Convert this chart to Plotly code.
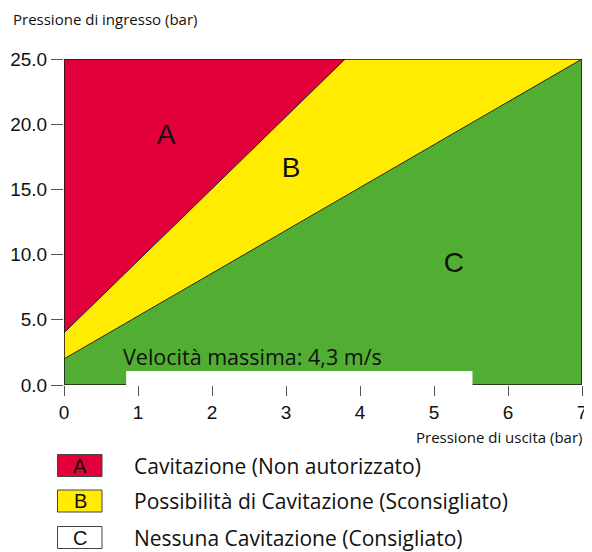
import plotly.graph_objects as go

# Data
x_range = [0, 7]
y_range = [0, 25]
boundary_A_x = [0, 3.8]   # limit between A and B
boundary_A_y = [4, 25]
boundary_C_x = [0, 7]     # limit between B and C
boundary_C_y = [2, 25]
region_labels = ["A", "B", "C"]
region_label_x = [1.38, 3.07, 5.27]
region_label_y = [19.0, 16.5, 9.2]
region_colors = ["#E2003A", "#FFEC00", "#52AE32"]
legend_labels = ["Cavitazione (Non autorizzato)",
                 "Possibilità di Cavitazione (Sconsigliato)",
                 "Nessuna Cavitazione (Consigliato)"]
legend_box_colors = ["#E2003A", "#FFEC00", "#FFFFFF"]
x_ticks = [0, 1, 2, 3, 4, 5, 6, 7]
y_ticks = [0, 5, 10, 15, 20, 25]
note_text = "Velocità massima: 4,3 m/s"

OFF = 8  # page body margin
W, H = 592 - OFF, 552 - OFF
ml, mt, mb = 64 - OFF, 59 - OFF, 167
mr = 584 - 582 + OFF  # right edge of plot at x=582 in the window
pw, ph = W - ml - mr, H - mt - mb

fig = go.Figure()

# Region C (green)
fig.add_trace(go.Scatter(
    x=[x_range[0], x_range[1], boundary_C_x[1], boundary_C_x[0], x_range[0]],
    y=[y_range[0], y_range[0], boundary_C_y[1], boundary_C_y[0], y_range[0]],
    fill="toself", fillcolor=region_colors[2], mode="lines",
    line=dict(width=0), hoverinfo="skip", showlegend=False))
# Region B (yellow)
fig.add_trace(go.Scatter(
    x=[boundary_C_x[0], boundary_C_x[1], boundary_A_x[1], boundary_A_x[0], boundary_C_x[0]],
    y=[boundary_C_y[0], boundary_C_y[1], boundary_A_y[1], boundary_A_y[0], boundary_C_y[0]],
    fill="toself", fillcolor=region_colors[1], mode="lines",
    line=dict(width=0), hoverinfo="skip", showlegend=False))
# Region A (red)
fig.add_trace(go.Scatter(
    x=[boundary_A_x[0], boundary_A_x[1], x_range[0], boundary_A_x[0]],
    y=[boundary_A_y[0], boundary_A_y[1], y_range[1], boundary_A_y[0]],
    fill="toself", fillcolor=region_colors[0], mode="lines",
    line=dict(width=0), hoverinfo="skip", showlegend=False))
# Boundary lines
for bx, by in [(boundary_A_x, boundary_A_y), (boundary_C_x, boundary_C_y)]:
    fig.add_trace(go.Scatter(x=bx, y=by, mode="lines",
                             line=dict(color="#222222", width=1),
                             hoverinfo="skip", showlegend=False))
# Region letters
fig.add_trace(go.Scatter(
    x=region_label_x, y=region_label_y, mode="text", text=region_labels,
    textfont=dict(family="Liberation Sans", size=28, color="#111111"),
    hoverinfo="skip", showlegend=False))

# Frame, then white box covering bottom part of it
fig.add_shape(type="rect", xref="x", yref="y", x0=x_range[0], x1=x_range[1],
              y0=y_range[0], y1=y_range[1], line=dict(color="#1a1a1a", width=1.6),
              fillcolor="rgba(0,0,0,0)", layer="above")
fig.add_shape(type="rect", xref="x", yref="y", x0=0.84, x1=5.52, y0=-0.2, y1=1.08,
              fillcolor="white", line=dict(width=0), layer="above")
fig.add_annotation(xref="x", yref="y", x=0.77, y=0.92, text=note_text, showarrow=False,
                   xanchor="left", yanchor="bottom",
                   font=dict(family="Open Sans", size=21.5, color="#111111"))

# Axis titles
fig.add_annotation(xref="paper", yref="paper", x=-(ml - (11 - OFF)) / pw,
                   y=1 + (mt - (7 - OFF)) / ph,
                   text="Pressione di ingresso (bar)", showarrow=False,
                   xanchor="left", yanchor="top",
                   font=dict(family="Open Sans", size=15, color="#111111"))
fig.add_annotation(xref="paper", yref="paper", x=1.0 + 2 / pw,
                   y=-(437 - OFF - mt - ph) / ph,
                   text="Pressione di uscita (bar)", showarrow=False,
                   xanchor="right", yanchor="middle",
                   font=dict(family="Open Sans", size=15, color="#111111"))

# Legend (manual)
row_py = [465.5, 501, 537.5]
for lab, txt, col, py in zip(region_labels, legend_labels, legend_box_colors, row_py):
    yc = (H - mb - (py - OFF)) / ph
    fig.add_shape(type="rect", xref="paper", yref="paper",
                  x0=(57.5 - 64) / pw, x1=(102 - 64) / pw,
                  y0=yc - 11 / ph, y1=yc + 11 / ph,
                  fillcolor=col, line=dict(color="#444444", width=1))
    fig.add_annotation(xref="paper", yref="paper", x=(80 - 64) / pw, y=yc,
                       text=lab, showarrow=False, xanchor="center", yanchor="middle",
                       font=dict(family="Liberation Sans", size=20, color="#111111"))
    fig.add_annotation(xref="paper", yref="paper", x=(132 - 64) / pw, y=yc,
                       text=txt, showarrow=False, xanchor="left", yanchor="middle",
                       font=dict(family="Open Sans", size=21, color="#111111"))

fig.update_xaxes(range=x_range, tickvals=x_ticks, showgrid=False, zeroline=False,
                 showline=False, ticks="outside", ticklen=10, tickwidth=1.2,
                 tickcolor="#555555", automargin=False,
                 tickfont=dict(family="Liberation Sans", size=19, color="#111111"))
fig.update_yaxes(range=y_range, tickvals=y_ticks, tickformat=".1f", showgrid=False,
                 zeroline=False, showline=False, ticks="outside", ticklen=12,
                 tickwidth=1.2, tickcolor="#555555", automargin=False,
                 tickfont=dict(family="Liberation Sans", size=19, color="#111111"))

fig.update_layout(width=W, height=H, margin=dict(l=ml, r=mr, t=mt, b=mb),
                  plot_bgcolor="white", paper_bgcolor="white", showlegend=False)

fig.write_html("out.html")
